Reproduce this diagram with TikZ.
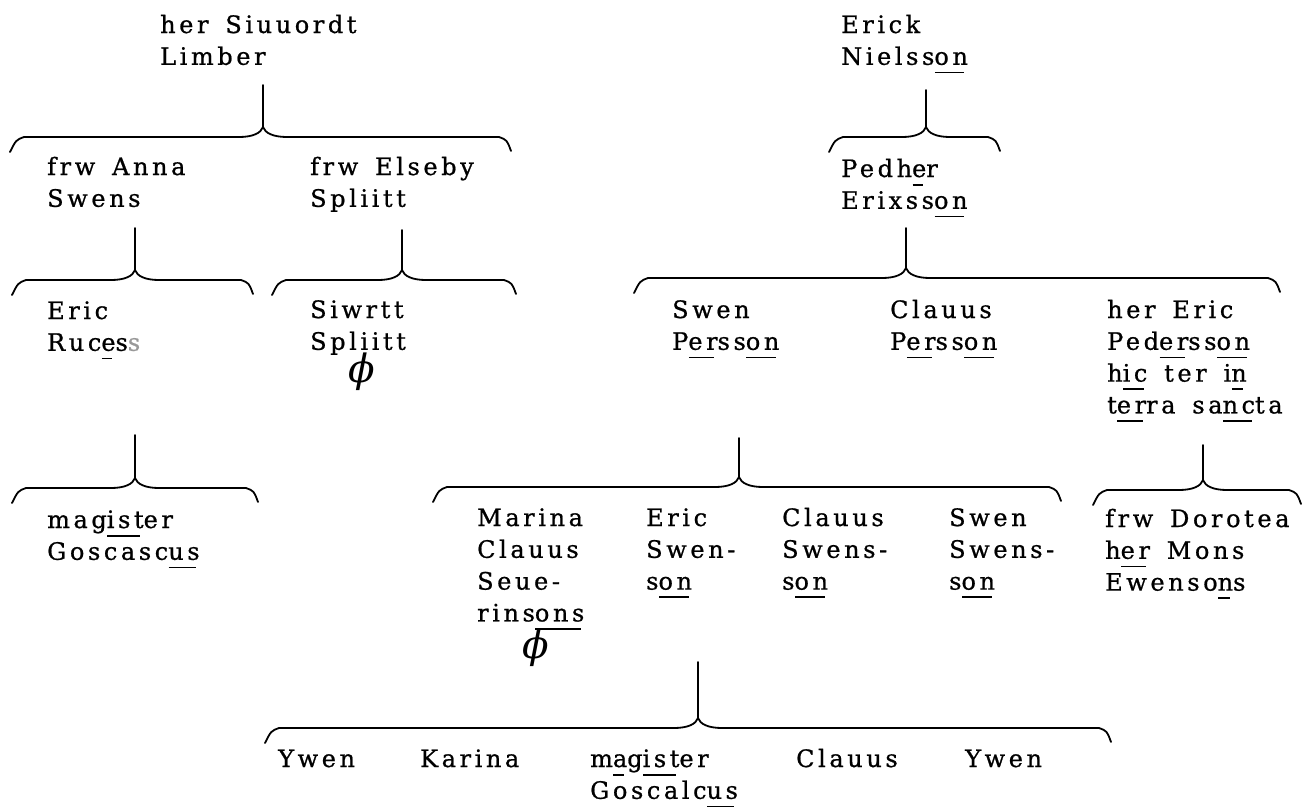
\documentclass[tikz,border=0pt]{standalone}
\usepackage{fontspec}
\setmainfont{DejaVu Serif}[LetterSpace=15, FakeBold=0.8, WordSpace=1.5]
\newfontfamily\phifont{DejaVu Serif}[Scale=1.3]
\usepackage{tikz}

\newcommand{\mk}[1]{\setbox0\hbox{#1}\rlap{\kern0.5pt\rule[-8.5pt]{\dimexpr\wd0-4pt\relax}{1.8pt}}\box0\relax}
\newcommand{\kinbar}[5]{%
  \draw[kin] (#1,#2) -- (#1,#3-10);
  \draw[kin] (#4-10,#3+15) .. controls (#4-4,#3+3) .. (#4+4,#3) -- (#1-24,#3)
    .. controls (#1-10,#3) and (#1-2,#3-4) .. (#1,#3-10)
    .. controls (#1+2,#3-4) and (#1+10,#3) .. (#1+24,#3) -- (#5-4,#3)
    .. controls (#5+4,#3+3) .. (#5+8,#3+14);}

\begin{document}
\begin{tikzpicture}[
  x=1pt, y=-1pt,
  every node/.style={font=\fontsize{24}{31.8}\selectfont},
  nm/.style={anchor=base west, align=left, inner sep=0pt},
  l2/.style={yshift=-31.8pt},
  l3/.style={yshift=-63.6pt},
  l4/.style={yshift=-95.4pt},
  phi/.style={inner sep=0pt, font=\phifont\itshape\fontsize{30}{30}\selectfont},
  kin/.style={line width=1.8pt, line join=round, line cap=round}
]
  \useasboundingbox (0,0) rectangle (1302,807);
  \node[nm, l2] (siuuordt) at (160,33) {her Siuuordt\\Limber};
  \node[nm, l2] (anna) at (47,175) {frw Anna\\Swens};
  \node[nm, l2] (elseby) at (310,175) {frw Elseby\\Spliitt};
  \node[nm, l2] (ruces) at (47,319) {Eric\\Ruc\mk{e}s\textcolor{black!40}{s}};
  \node[nm, l2] (siwrtt) at (310,318) {Siwrtt\\Spliitt};
  \node[phi] (sdead) at (362,372) {ϕ};
  \node[nm, l2] (gosc) at (47,528) {mag\mk{ist}er\\Goscasc\mk{us}};
  \node[nm, l2] (erick) at (841,33) {Erick\\Nielss\mk{on}};
  \node[nm, l2] (pedher) at (841,177) {Pedh\mk{e}r\\Erixss\mk{on}};
  \node[nm, l2] (swen) at (672,318) {Swen\\P\mk{er}ss\mk{on}};
  \node[nm, l2] (clauus) at (890,318) {Clauus\\P\mk{er}ss\mk{on}};
  \node[nm, l4] (hereric) at (1107,318) {her Eric\\Ped\mk{er}ss\mk{on}\\h\mk{ic} ter i\mk{n}\\t\mk{er}ra sa\mk{nc}ta};
  \node[nm, l4] (marina) at (477,526) {Marina\\Clauus\\Seue-\\rins\mk{ons}};
  \node[phi] (mdead) at (536,648) {ϕ};
  \node[nm, l3] (ericsw) at (646,526) {Eric\\Swen-\\s\mk{on}};
  \node[nm, l3] (clauussw) at (782,526) {Clauus\\Swens-\\s\mk{on}};
  \node[nm, l3] (swensw) at (949,526) {Swen\\Swens-\\s\mk{on}};
  \node[nm, l3] (dorotea) at (1105,527) {frw Dorotea\\h\mk{er} Mons\\Ewenso\mk{n}s};
  \node[nm] (ywena) at (278,767) {Ywen};
  \node[nm] (karina) at (420,767) {Karina};
  \node[nm, l2] (goscalc) at (590,767) {m\mk{a}g\mk{ist}er\\Goscalc\mk{us}};
  \node[nm] (clauusb) at (796,767) {Clauus};
  \node[nm] (ywenb) at (965,767) {Ywen};
  \kinbar{263}{85}{137}{20}{503}
  \kinbar{135}{228}{280}{22}{245}
  \kinbar{402}{230}{280}{282}{508}
  \kinbar{926}{90}{137}{839}{992}
  \kinbar{906}{228}{278}{644}{1272}
  \kinbar{135}{435}{488}{22}{250}
  \kinbar{739}{438}{487}{443}{1053}
  \kinbar{1203}{445}{490}{1103}{1293}
  \kinbar{698}{662}{728}{275}{1103}
\end{tikzpicture}
\end{document}
